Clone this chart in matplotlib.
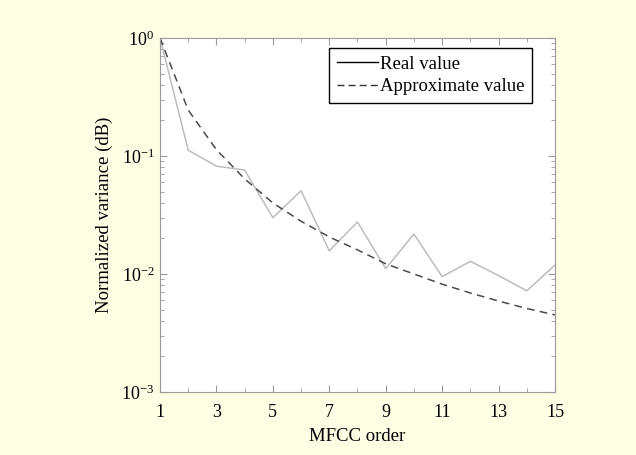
import numpy as np
import matplotlib.pyplot as plt
from matplotlib.lines import Line2D
from matplotlib.ticker import FixedLocator, LogLocator, NullFormatter

plt.rcParams['font.family'] = ['Liberation Serif', 'DejaVu Serif']
plt.rcParams['mathtext.fontset'] = 'stix'

# data
order = [1, 2, 3, 4, 5, 6, 7, 8, 9, 10, 11, 12, 13, 14, 15]
real_value = [1.0, 0.112, 0.082, 0.076, 0.030, 0.0508, 0.0157, 0.0276, 0.0111,
              0.0218, 0.0095, 0.0128, 0.0097, 0.0072, 0.0119]
approx_value = [1.0, 0.245, 0.113, 0.064, 0.040, 0.0280, 0.0206, 0.0160, 0.0122,
                0.0100, 0.0082, 0.0069, 0.0059, 0.0051, 0.0045]
x_ticks = [1, 3, 5, 7, 9, 11, 13, 15]

bg = '#fefee4'
fig = plt.figure(figsize=(6.36, 4.55), dpi=100, facecolor=bg)
ax = fig.add_axes([0.2516, 0.1385, 0.621, 0.778])

ax.plot(order, real_value, color='#bdbdbd', lw=1.1)
ax.plot(order, approx_value, color='#4a4a4a', lw=1.1, ls=(0, (5, 3.5)))

ax.set_yscale('log')
ax.set_xlim(1, 15)
ax.set_ylim(1e-3, 1)
ax.xaxis.set_major_locator(FixedLocator(x_ticks))
ax.xaxis.set_minor_locator(FixedLocator(order))
ax.yaxis.set_major_locator(LogLocator(base=10))
ax.yaxis.set_minor_locator(LogLocator(base=10, subs=np.arange(2, 10)))
ax.yaxis.set_minor_formatter(NullFormatter())

ax.tick_params(which='both', direction='in', top=True, right=True,
               color='#9a9a9a', labelsize=13)
ax.tick_params(which='major', length=5)
ax.tick_params(axis='x', which='major', pad=9)
ax.tick_params(axis='y', which='major', pad=4)
ax.tick_params(which='minor', length=3)
for s in ax.spines.values():
    s.set_color('#9a9a9a')

ax.set_xlabel('MFCC order', fontsize=13.5, labelpad=5)
ax.set_ylabel('Normalized variance (dB)', fontsize=13.5, labelpad=6)

handles = [Line2D([], [], color='black', lw=1),
           Line2D([], [], color='#333333', lw=1, ls=(0, (5, 3)))]
leg = ax.legend(handles, ['Real value', 'Approximate value'], loc='upper right',
                bbox_to_anchor=(0.942, 0.972), borderaxespad=0,
                fontsize=13.5, fancybox=False, framealpha=1, edgecolor='black',
                handlelength=2.2, handletextpad=0.1, borderpad=0.4,
                labelspacing=0.3)
leg.get_frame().set_linewidth(1.0)

fig.savefig('out.png', dpi=100, facecolor=bg)
